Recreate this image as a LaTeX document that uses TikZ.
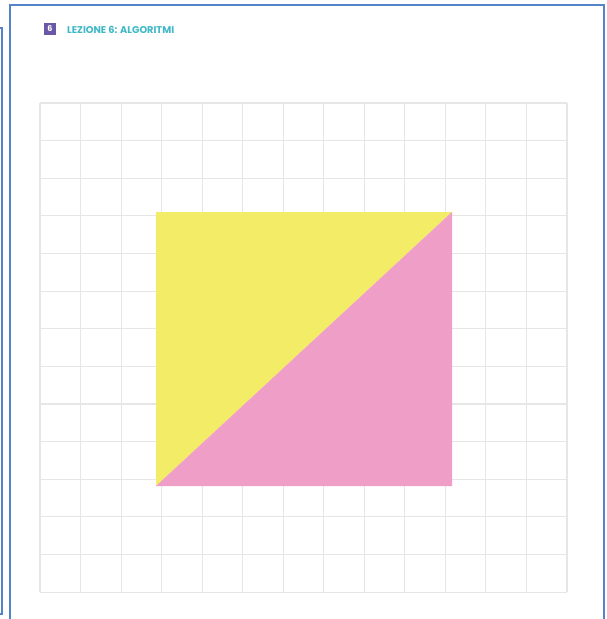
\documentclass[tikz,border=0pt]{standalone}
\usepackage{fontspec}
\newfontfamily\hdrfont{Poppins}
\definecolor{framec}{HTML}{5585C8}
\definecolor{gridc}{HTML}{E6E6E6}
\definecolor{yellowc}{HTML}{F3EC66}
\definecolor{pinkc}{HTML}{EE9EC7}
\definecolor{purplec}{HTML}{6A58A6}
\definecolor{tealc}{HTML}{3FB8C6}
\tikzset{
  framestyle/.style={draw=framec, line width=2.6pt},
  gridline/.style={draw=gridc, line width=1.1pt},
  numbox/.style={fill=purplec, minimum width=12pt, minimum height=12pt, inner sep=0pt, text=white, font=\hdrfont\bfseries\fontsize{8}{9}\selectfont},
  titletext/.style={text=tealc, inner sep=0pt, anchor=west, font=\hdrfont\bfseries\fontsize{9.8}{11}\selectfont}
}
\begin{document}
\begin{tikzpicture}[x=1pt,y=-1pt]
\useasboundingbox (0,0) rectangle (606,619);
\fill[white] (0,0) rectangle (606,619);
% grid
\foreach \i in {0,...,13} \draw[gridline] ({40+\i*40.54},103) -- ({40+\i*40.54},592);
\foreach \j in {0,...,13} \draw[gridline] (40,{103+\j*37.62}) -- (567,{103+\j*37.62});
% square split by diagonal
\coordinate (tl) at (156,212);
\coordinate (tr) at (452,212);
\coordinate (bl) at (156,486);
\coordinate (br) at (452,486);
\fill[yellowc] (tl) -- (tr) -- (bl) -- cycle;
\fill[pinkc] (tr) -- (br) -- (bl) -- cycle;
% frame
\draw[framestyle] (10,619) -- (10,5) -- (604,5) -- (604,619);
\draw[framestyle] (0,28) -- (2,28) -- (2,614) -- (0,614);
% header
\node[numbox] (num) at (50,29) {6};
\node[titletext] (title) at (67,29.5) {LEZIONE 6: ALGORITMI};
\end{tikzpicture}
\end{document}
